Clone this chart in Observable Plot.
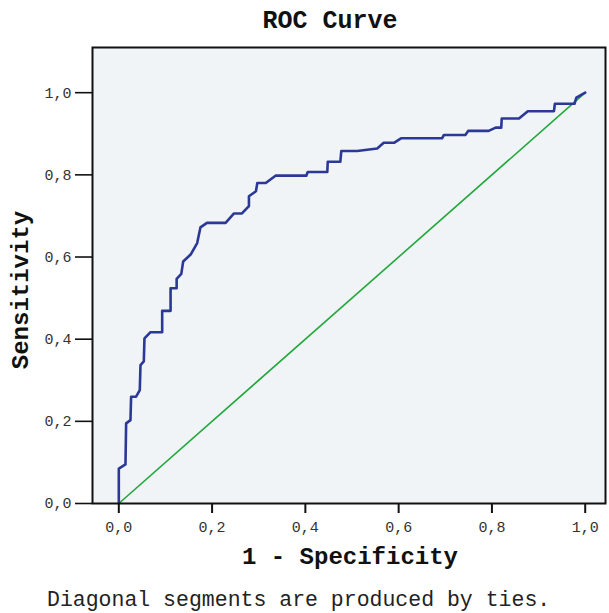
<!DOCTYPE html>
<html>
<head>
<meta charset="utf-8">
<script src="https://cdn.jsdelivr.net/npm/d3@7"></script>
<script src="https://cdn.jsdelivr.net/npm/@observablehq/plot@0.6"></script>
<style>
  html, body { margin: 0; padding: 0; background: #fff; }
  #wrap { position: relative; width: 609px; height: 613px; overflow: hidden; font-family: "Liberation Mono", "Courier New", monospace; }
  #chart { position: absolute; left: 0; top: 0; }
  .lbl { position: absolute; white-space: nowrap; color: #111; }
</style>
</head>
<body>
<div id="wrap">
  <div id="chart"></div>
  <div class="lbl" id="title" style="left:330px; top:21px; transform:translate(-50%,-50%); font-size:25px; font-weight:bold;">ROC Curve</div>
  <div class="lbl" id="xlab" style="left:350px; top:557px; transform:translate(-50%,-50%); font-size:24px; font-weight:bold;">1 - Specificity</div>
  <div class="lbl" id="ylab" style="left:21px; top:290px; transform:translate(-50%,-50%) rotate(-90deg); font-size:24px; font-weight:bold;">Sensitivity</div>
  <div class="lbl" id="cap" style="left:47px; top:600px; transform:translate(0,-50%); font-size:21.5px; color:#222;">Diagonal segments are produced by ties.</div>
</div>
<script>
// ROC curve vertices (1 - specificity, sensitivity)
const fpr = [0, 0, 0.0143, 0.0157, 0.025, 0.0264, 0.037, 0.045, 0.0465, 0.0536, 0.055, 0.068, 0.093, 0.093, 0.111, 0.111, 0.124, 0.124, 0.134, 0.138, 0.154, 0.168, 0.175, 0.189, 0.229, 0.247, 0.264, 0.279, 0.279, 0.294, 0.297, 0.315, 0.336, 0.402, 0.405, 0.447, 0.448, 0.475, 0.477, 0.511, 0.554, 0.568, 0.590, 0.605, 0.693, 0.697, 0.743, 0.749, 0.793, 0.808, 0.820, 0.821, 0.858, 0.877, 0.933, 0.935, 0.977, 0.981, 1];
const tpr = [0, 0.085, 0.095, 0.195, 0.203, 0.26, 0.26, 0.276, 0.337, 0.346, 0.402, 0.417, 0.417, 0.469, 0.469, 0.524, 0.524, 0.547, 0.559, 0.589, 0.606, 0.634, 0.672, 0.683, 0.683, 0.706, 0.706, 0.724, 0.748, 0.760, 0.780, 0.780, 0.798, 0.798, 0.807, 0.807, 0.832, 0.832, 0.858, 0.858, 0.864, 0.878, 0.878, 0.889, 0.889, 0.897, 0.897, 0.907, 0.907, 0.915, 0.915, 0.937, 0.937, 0.955, 0.955, 0.973, 0.973, 0.988, 1];
// Reference diagonal
const refX = [0, 1];
const refY = [0, 1];
// Tick values
const xTicks = [0, 0.2, 0.4, 0.6, 0.8, 1.0];
const yTicks = [0, 0.2, 0.4, 0.6, 0.8, 1.0];

const roc = fpr.map((x, i) => ({x, y: tpr[i]}));
const ref = refX.map((x, i) => ({x, y: refY[i]}));
const fmt = d => d.toFixed(1).replace(".", ",");

const chart = Plot.plot({
  width: 609,
  height: 575,
  marginTop: 47,
  marginLeft: 92,
  marginRight: 4,
  marginBottom: 72,
  x: {domain: [-0.0564, 1.0435]},
  y: {domain: [0, 1.11]},
  style: {fontFamily: "'Liberation Mono', 'Courier New', monospace", fontSize: "15px", color: "#333", background: "transparent"},
  marks: [
    Plot.frame({fill: "#f0f4f7", stroke: null}),
    Plot.line(ref, {x: "x", y: "y", stroke: "#21a83b", strokeWidth: 1.6}),
    Plot.line(roc, {x: "x", y: "y", stroke: "#2b3895", strokeWidth: 2.6}),
    Plot.frame({stroke: "#111", strokeWidth: 2}),
    Plot.axisX({ticks: xTicks, tickFormat: fmt, tickSize: 10, tickPadding: 8, strokeWidth: 2, stroke: "#111", label: null}),
    Plot.axisY({ticks: yTicks, tickFormat: fmt, tickSize: 17, tickPadding: 4, strokeWidth: 1.6, stroke: "#111", label: null})
  ]
});
document.getElementById("chart").appendChild(chart);
</script>
</body>
</html>
